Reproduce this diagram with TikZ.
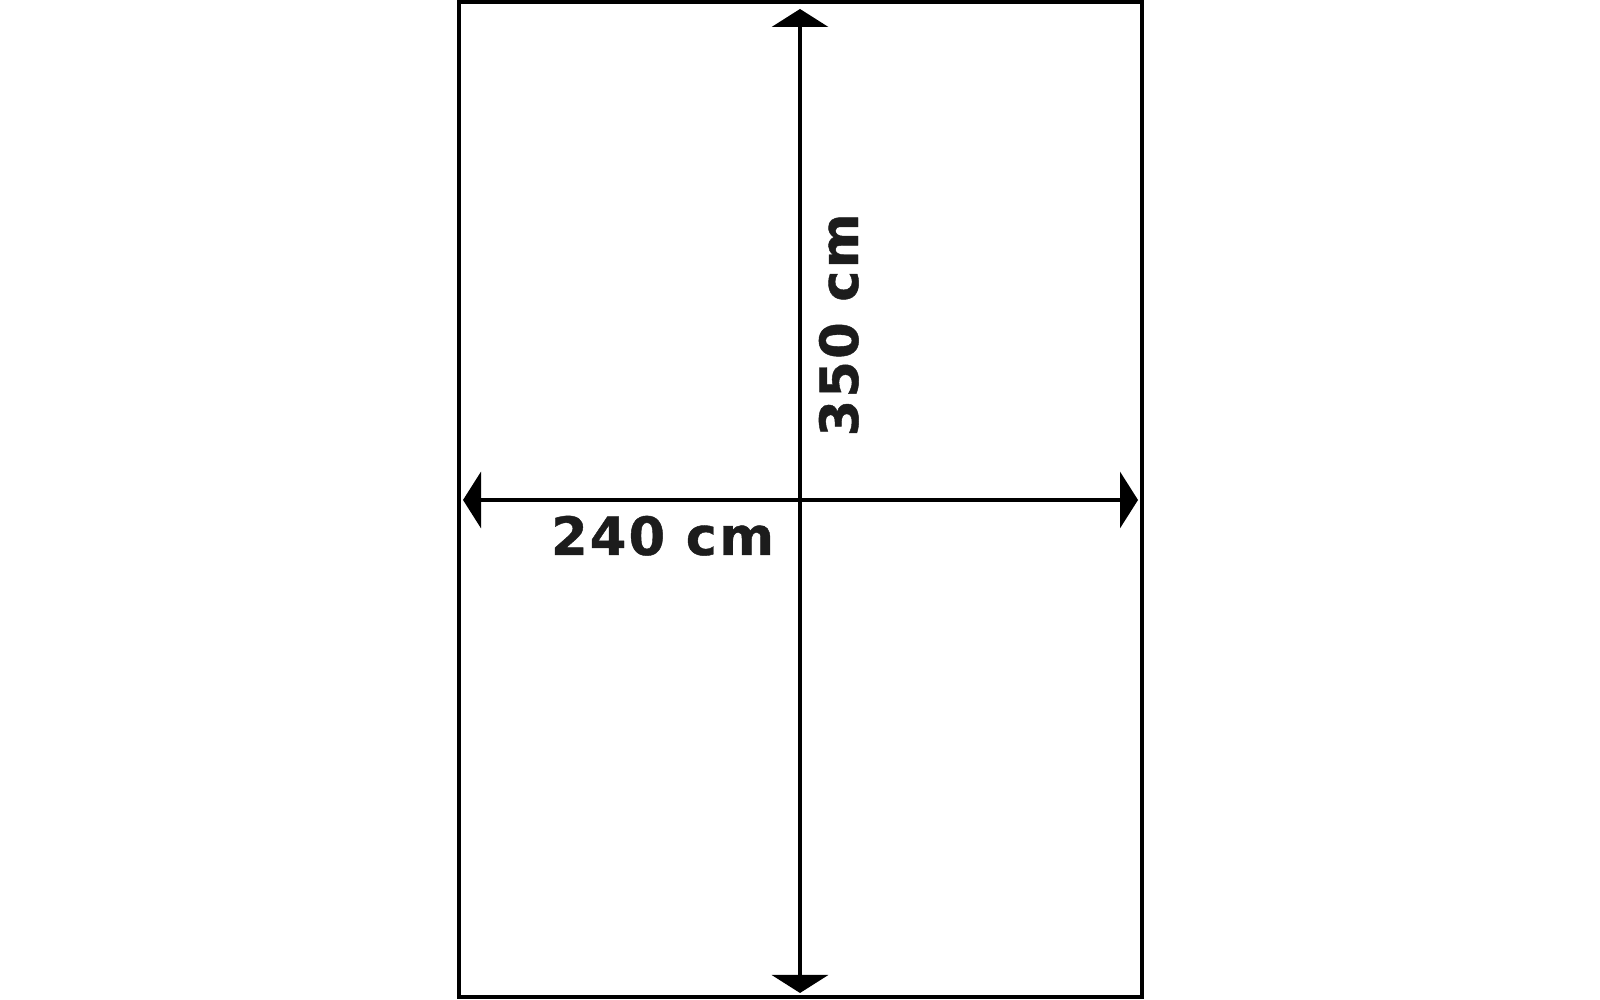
\documentclass[tikz,border=0pt]{standalone}
\usepackage{fontspec}
\usepackage{xcolor}
\usetikzlibrary{positioning,arrows.meta}
\newfontfamily\dimfont[LetterSpace=4,FakeBold=0.8]{DejaVu Sans Bold}
\definecolor{labelgray}{HTML}{1C1C1C}

\begin{document}
\begin{tikzpicture}[line width=0.04cm,
    dimline/.style={{Triangle[length=0.18cm,width=0.56cm]}-{Triangle[length=0.18cm,width=0.56cm]}},
    dimlabel/.style={text=labelgray,inner sep=0pt,font=\dimfont\fontsize{15pt}{17pt}\selectfont}]
    \useasboundingbox (0,0) rectangle (16,10);
    % outline of the sheet
    \draw (4.59,9.98) rectangle (11.415,0.03);
    \coordinate (top) at (8,9.91);
    \coordinate (bottom) at (8,0.07);
    \coordinate (left) at (4.63,5);
    \coordinate (right) at (11.38,5);
    \draw[dimline] (top) -- (bottom);
    \draw[dimline] (left) -- (right);
    \node[dimlabel,anchor=base west] (width) at (5.49,4.45) {240 cm};
    \node[dimlabel,anchor=base,rotate=90] (height) at (8.58,6.75) {350 cm};
  \end{tikzpicture}
\end{document}
